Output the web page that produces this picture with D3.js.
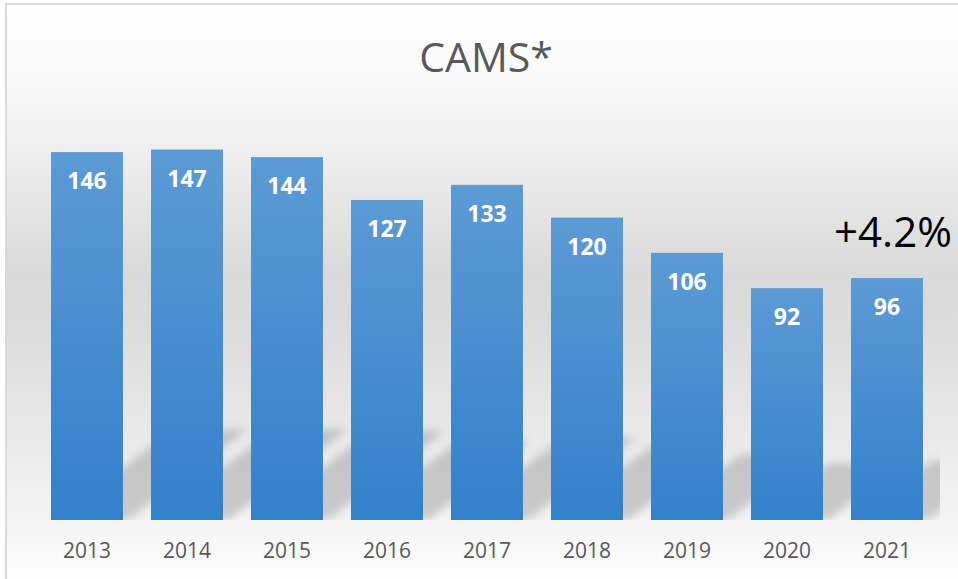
<!DOCTYPE html>
<html>
<head>
<meta charset="utf-8">
<script src="https://cdn.jsdelivr.net/npm/d3@7"></script>
<style>
  html, body { margin: 0; padding: 0; background: #ffffff; }
  svg { display: block; }
</style>
</head>
<body>
<svg id="chart" width="958" height="579"></svg>
<script>
// ---- data ----
const years = ["2013", "2014", "2015", "2016", "2017", "2018", "2019", "2020", "2021"];
const values = [146, 147, 144, 127, 133, 120, 106, 92, 96];
const title = "CAMS*";
const annotation = "+4.2%";

// ---- layout ----
const W = 958, H = 579;
const svg = d3.select("#chart");
const defs = svg.append("defs");

// chart background gradient
const bg = defs.append("linearGradient").attr("id", "bgGrad")
  .attr("gradientUnits", "userSpaceOnUse").attr("x1", 0).attr("x2", 0).attr("y1", 4).attr("y2", 579);
[[0, "#ffffff"], [0.17, "#f6f6f6"], [0.26, "#eeeeee"], [0.38, "#e2e2e2"], [0.47, "#d9d9d9"],
 [0.55, "#dbdbdb"], [0.74, "#e8e8e8"], [0.9, "#f4f4f4"], [1, "#fdfdfd"]]
  .forEach(([o, c]) => bg.append("stop").attr("offset", o).attr("stop-color", c));

const barGrad = defs.append("linearGradient").attr("id", "barGrad")
  .attr("x1", 0).attr("x2", 0).attr("y1", 0).attr("y2", 1);
barGrad.append("stop").attr("offset", 0).attr("stop-color", "#5b9bd5");
barGrad.append("stop").attr("offset", 1).attr("stop-color", "#3380cb");

const blur = defs.append("filter").attr("id", "shadowBlur")
  .attr("x", "-30%").attr("y", "-30%").attr("width", "160%").attr("height", "160%");
blur.append("feGaussianBlur").attr("stdDeviation", 4);

svg.append("rect").attr("x", 0).attr("y", 0).attr("width", W).attr("height", H).attr("fill", "#ffffff");
svg.append("rect").attr("x", 6).attr("y", 4).attr("width", W + 10).attr("height", H + 10)
  .attr("fill", "url(#bgGrad)").attr("stroke", "#d9d9d9").attr("stroke-width", 2);

const x = d3.scaleBand().domain(years).range([37, 937]).paddingInner(0.28).paddingOuter(0.14);
const y = d3.scaleLinear().domain([0, 160]).range([520, 520 - 160 * 2.52]);

defs.append("clipPath").attr("id", "plotClip").append("rect")
  .attr("x", 30).attr("y", 0).attr("width", 940 - 30).attr("height", 520);

// perspective shadows
const shadowScale = 0.245, skew = 1.37;
svg.append("g").attr("clip-path", "url(#plotClip)")
  .append("g").attr("filter", "url(#shadowBlur)")
  .selectAll("polygon").data(years).join("polygon")
  .attr("fill", "#000").attr("fill-opacity", 0.17)
  .attr("points", (d, i) => {
    const x0 = x(d), x1 = x(d) + x.bandwidth();
    const h = (y(0) - y(values[i])) * shadowScale;
    const s = h * skew;
    const b = y(0);
    return [[x0, b], [x1 + 6, b], [x1 + s, b - h], [x0 + s, b - h]].map(p => p.join(",")).join(" ");
  });

// bars
svg.append("g").selectAll("rect").data(years).join("rect")
  .attr("x", d => x(d)).attr("width", x.bandwidth())
  .attr("y", (d, i) => y(values[i])).attr("height", (d, i) => y(0) - y(values[i]))
  .attr("fill", "url(#barGrad)");

// value labels
svg.append("g").selectAll("text").data(years).join("text")
  .attr("x", d => x(d) + x.bandwidth() / 2)
  .attr("y", (d, i) => y(values[i]) + 37)
  .attr("text-anchor", "middle")
  .attr("font-family", "'Open Sans', sans-serif").attr("font-weight", 700).attr("font-size", 23)
  .attr("fill", "#ffffff")
  .text((d, i) => values[i]);

// x axis
const xAxis = svg.append("g").attr("transform", `translate(0,${y(0)})`)
  .call(d3.axisBottom(x).tickSize(0).tickPadding(38));
xAxis.select(".domain").remove();
xAxis.selectAll("text")
  .attr("font-family", "'Open Sans', sans-serif").attr("font-size", 21).attr("fill", "#595959")
  .attr("dy", null).attr("y", 38);

// title
svg.append("text").attr("x", 486).attr("y", 72).attr("text-anchor", "middle")
  .attr("font-family", "'Open Sans', sans-serif").attr("font-weight", 400).attr("font-size", 41)
  .attr("fill", "#595959").text(title);

// annotation
const last = years[years.length - 1];
svg.append("text")
  .attr("x", x(last) + x.bandwidth() / 2 + 6)
  .attr("y", y(values[values.length - 1]) - 31)
  .attr("text-anchor", "middle")
  .attr("font-family", "'Open Sans', sans-serif").attr("font-size", 42)
  .attr("fill", "#000000").text(annotation);
</script>
</body>
</html>
